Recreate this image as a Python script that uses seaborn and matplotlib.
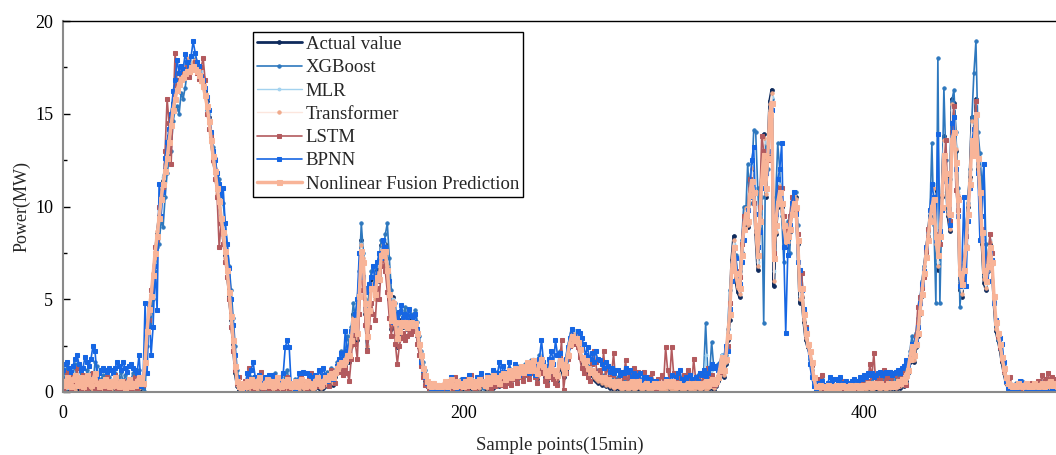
import numpy as np
import matplotlib
matplotlib.use("Agg")
import matplotlib.pyplot as plt
from matplotlib.ticker import MultipleLocator
import seaborn as sns

# ---------------- data ----------------
actual = [
    # x 0-39
    0.3,0.1,0.0,0.2,0.4,0.2,0.0,0.1,0.3,0.2, 0.0,0.2,0.5,0.2,0.1,0.0,0.2,0.3,0.1,0.0,
    0.2,0.1,0.0,0.1,0.0,0.2,0.1,0.0,0.0,0.2, 0.1,0.0,0.2,0.1,0.0,0.1,0.1,0.0,0.1,0.2,
    # x 40-89
    0.3,1.5,3.2,4.4,5.0,6.2,7.4,8.5,9.5,10.6, 11.4,12.0,12.8,13.8,14.8,15.6,16.3,16.8,17.1,17.4,
    17.3,17.6,17.8,17.7,17.9,18.0,17.8,17.6,17.4,17.1, 16.8,16.2,15.7,14.8,13.6,12.6,11.8,10.9,10.2,9.2,
    8.5,7.4,6.5,5.2,3.9,2.6,1.0,0.3,0.1,0.0,
    # x 90-139
    0.1,0.0,0.2,0.1,0.0,0.3,0.1,0.0,0.2,0.1, 0.0,0.1,0.3,0.1,0.0,0.2,0.0,0.1,0.2,0.0,
    0.1,0.0,0.2,0.1,0.0,0.1,0.3,0.1,0.0,0.2, 0.1,0.0,0.2,0.3,0.1,0.0,0.2,0.4,0.2,0.1,
    0.2,0.4,0.3,0.5,0.6,0.4,0.8,1.0,1.2,1.3,
    # x 140-189
    1.2,1.4,1.8,1.6,2.5,4.2,3.0,2.8,5.5,8.2, 7.0,4.2,2.3,4.5,6.0,5.6,5.2,6.6,6.0,7.9,
    7.8,8.0,6.6,5.0,3.4,5.1,3.5,2.4,3.2,3.9, 3.5,3.8,3.4,3.6,3.9,3.5,3.7,3.0,2.4,1.8,
    1.0,0.6,0.3,0.1,0.0,0.2,0.1,0.0,0.1,0.0,
    # x 190-329
    0.1,0.0,0.2,0.1,0.0,0.1,0.2,0.0,0.1,0.3, 0.2,0.1,0.0,0.2,0.3,0.1,0.0,0.2,0.1,0.3,
    0.4,0.2,0.1,0.3,0.5,0.2,0.4,0.6,0.3,0.5, 0.7,0.4,0.6,0.9,0.5,0.8,1.0,0.7,0.9,1.2,
    0.8,1.1,1.4,0.9,1.2,1.6,1.0,0.7,1.3,1.8, 1.2,0.8,0.6,1.0,1.5,0.9,0.7,0.6,1.7,1.2,
    0.8,1.2,2.0,2.8,3.3,2.9,3.2,2.8,2.2,1.6, 1.3,1.5,1.1,0.9,1.0,0.7,0.6,0.5,0.6,0.4,
    0.5,0.3,0.4,0.2,0.3,0.1,0.2,0.3,0.1,0.0, 0.2,0.1,0.0,0.1,0.2,0.0,0.1,0.3,0.1,0.0,
    0.1,0.2,0.0,0.1,0.0,0.2,0.1,0.0,0.1,0.0, 0.1,0.0,0.2,0.1,0.0,0.1,0.0,0.2,0.1,0.0,
    0.0,0.1,0.2,0.0,0.1,0.0,0.1,0.2,0.0,0.1, 0.2,0.0,0.1,0.3,0.2,0.1,0.3,0.6,1.0,1.8,
    # x 330-379
    0.8,1.5,2.8,3.9,7.1,8.4,6.0,5.4,5.1,7.5, 9.0,10.0,8.9,11.1,12.0,10.7,8.5,6.6,9.3,12.0,
    13.9,10.5,12.8,15.7,16.3,5.7,8.5,10.0,11.1,10.0, 8.7,7.8,8.0,8.6,9.8,10.7,10.5,8.0,4.8,5.1,
    3.8,2.8,2.4,2.1,1.4,0.6,0.1,0.0,0.2,0.1,
    # x 380-424
    0.0,0.1,0.2,0.0,0.1,0.0,0.2,0.1,0.0,0.1, 0.2,0.0,0.1,0.0,0.1,0.2,0.0,0.1,0.0,0.2,
    0.1,0.0,0.2,0.1,0.0,0.1,0.3,0.1,0.0,0.2, 0.1,0.0,0.2,0.1,0.3,0.2,0.1,0.4,0.2,0.5,
    0.3,0.6,1.0,1.6,2.4,
    # x 425-474
    1.6,2.4,3.0,4.2,5.2,6.6,7.5,8.4,9.5,10.2, 10.9,7.8,6.6,8.5,10.5,13.8,11.6,9.5,8.7,15.8,
    15.6,13.0,10.5,5.5,5.1,6.5,7.8,10.0,11.6,14.8, 12.7,15.8,12.0,10.5,8.0,5.9,5.5,6.5,8.0,6.9,
    4.8,3.3,2.8,2.3,1.6,1.0,0.5,0.2,0.1,0.0,
    # x 475-496
    0.1,0.0,0.2,0.1,0.0,0.1,0.2,0.0,0.1,0.0, 0.2,0.1,0.0,0.1,0.2,0.0,0.1,0.0,0.2,0.1, 0.0,0.1,
]

xgboost = [
    1.0,0.6,1.4,0.8,0.3,0.9,1.5,0.7,0.4,1.1, 0.6,0.3,1.2,0.8,1.0,0.5,1.6,1.4,0.4,0.7,
    0.9,0.5,1.2,0.8,0.3,0.6,1.0,0.4,0.8,1.1, 0.5,0.9,0.6,0.3,0.7,1.0,0.8,0.5,1.2,0.6,
    0.2,0.0,2.5,4.8,3.5,5.0,6.5,7.8,8.0,9.2, 8.9,10.5,11.8,12.5,13.0,14.6,15.2,15.4,15.0,16.1,
    15.8,16.4,17.2,17.6,17.3,17.8,17.5,17.7,17.2,16.9, 16.5,16.0,15.2,14.5,14.0,13.2,12.6,11.8,11.5,11.0,
    10.2,9.1,8.0,6.8,5.5,4.0,2.5,1.2,0.5,0.3,
    0.0,0.3,0.6,0.2,0.8,0.4,0.2,0.5,0.9,0.3, 0.6,0.2,0.4,0.8,0.3,0.5,1.0,0.4,0.2,0.6,
    0.3,0.8,1.2,0.5,0.2,0.4,0.7,0.3,0.5,0.9, 0.4,0.6,0.3,1.0,0.5,0.2,0.7,0.4,0.8,0.5,
    0.9,0.6,1.1,0.7,1.3,0.9,1.2,1.6,1.4,2.2,
    1.8,2.2,3.0,2.6,3.5,4.8,4.0,5.0,6.5,9.1, 7.5,5.0,4.0,5.8,6.5,6.8,6.0,7.0,7.4,8.2,
    7.6,8.5,9.1,7.2,5.5,4.0,4.8,3.5,4.2,4.4, 4.0,4.6,3.8,4.4,4.2,3.6,4.4,3.8,3.0,2.2,
    1.6,1.2,0.6,0.4,0.2,0.5,0.3,0.2,0.4,0.3,
    0.1,0.4,0.2,0.6,0.3,0.1,0.5,0.3,0.2,0.7, 0.4,0.2,0.6,0.3,0.8,0.2,0.5,0.3,0.7,0.4,
    0.2,0.6,0.4,0.9,0.3,0.7,0.5,1.1,0.6,0.4, 0.8,1.0,0.6,1.3,0.7,1.1,0.9,1.4,0.8,1.2,
    1.0,1.5,1.1,1.3,1.7,1.2,0.9,1.4,2.0,1.6, 1.1,0.9,1.3,1.6,1.2,1.0,0.8,1.1,2.2,1.5,
    1.0,1.6,2.3,2.6,3.1,2.7,3.3,2.5,2.0,1.9, 1.5,1.7,1.2,1.4,1.1,0.9,1.2,0.8,1.0,0.7,
    0.9,0.6,0.8,0.5,0.7,0.4,0.6,0.8,0.5,0.3, 0.6,0.4,0.7,0.3,0.5,0.8,0.4,0.6,0.3,0.5,
    0.4,0.7,0.3,0.5,0.2,0.6,0.4,0.3,0.5,0.2, 0.4,0.2,0.5,0.3,0.6,0.2,0.4,0.7,0.3,0.5,
    0.3,0.6,0.8,0.4,0.7,0.3,0.5,0.9,0.6,0.4, 1.0,3.7,1.2,1.0,2.7,1.4,1.3,1.5,1.6,2.0,
    1.5,2.0,3.4,5.5,7.0,6.8,7.4,6.2,6.5,8.2, 10.0,9.5,12.3,10.2,11.5,14.1,14.0,11.0,8.8,10.5,
    3.7,13.2,12.0,14.5,15.8,8.0,10.5,13.4,12.0,9.5, 7.0,8.8,9.2,7.5,10.2,10.8,10.8,9.0,6.0,6.4,
    4.5,3.5,2.6,1.8,1.2,0.5,0.3,0.6,0.4,0.8,
    0.2,0.1,0.3,0.5,0.2,0.4,0.1,0.3,0.6,0.2, 0.4,0.3,0.1,0.5,0.2,0.4,0.6,0.3,0.2,0.5,
    0.7,0.4,0.6,0.3,0.8,0.5,0.4,0.7,0.3,0.6, 0.8,0.5,0.9,0.6,0.7,1.0,0.6,0.9,0.8,1.1,
    1.2,1.5,1.3,2.2,3.0,
    2.5,3.2,4.0,5.0,6.0,6.8,7.2,8.6,9.5,13.4, 9.0,4.8,18.0,4.8,10.0,16.4,12.5,10.0,11.5,15.7,
    16.3,14.0,11.0,4.6,6.0,6.5,8.8,10.2,12.0,14.8, 17.2,18.9,14.0,12.9,11.0,12.3,8.0,6.5,7.5,7.1,
    5.0,3.6,2.8,2.6,2.6,1.4,0.5,0.3,0.4,0.2,
    0.3,0.5,0.2,0.4,0.6,0.3,0.5,0.2,0.4,0.3, 0.5,0.2,0.4,0.6,0.3,0.5,0.4,0.2,0.5,0.3, 0.6,0.4,
]

mlr = [
    0.4,0.3,0.2,0.4,0.6,0.3,0.2,0.3,0.5,0.4, 0.2,0.4,0.6,0.4,0.3,0.2,0.4,0.5,0.3,0.2,
    0.4,0.3,0.2,0.3,0.2,0.4,0.3,0.2,0.2,0.4, 0.3,0.2,0.4,0.3,0.2,0.3,0.3,0.2,0.3,0.4,
    0.5,1.8,3.0,4.6,5.3,6.0,7.6,8.3,9.8,10.4, 11.6,12.2,12.6,14.0,14.6,15.8,16.1,17.0,16.9,17.5,
    17.1,17.8,17.6,17.9,17.7,18.1,17.6,17.8,17.2,17.3, 16.6,16.4,15.5,15.0,13.4,12.8,11.6,11.1,10.0,9.4,
    8.3,7.6,6.3,5.4,3.7,2.8,1.2,0.5,0.2,0.1,
    0.3,0.2,0.4,0.3,0.2,0.5,0.3,0.2,0.4,0.3, 0.2,0.3,0.5,0.3,0.2,0.4,0.2,0.3,0.4,0.2,
    0.3,0.2,0.8,0.3,0.2,0.3,0.5,0.3,0.2,0.4, 0.3,0.2,0.4,0.5,0.3,0.2,0.4,0.6,0.4,0.3,
    0.4,0.6,0.5,0.7,0.8,0.6,1.0,1.2,1.4,1.5,
    1.4,1.6,2.0,1.8,2.7,4.0,3.2,3.0,5.8,8.0, 7.2,4.5,2.6,4.8,5.8,5.9,5.4,6.4,6.3,7.7,
    7.9,8.2,6.8,5.3,3.7,5.0,3.8,2.7,3.4,3.8, 3.7,3.9,3.6,3.8,3.8,3.7,3.8,3.2,2.6,2.0,
    1.2,0.8,0.5,0.3,0.2,0.3,0.2,0.2,0.2,0.1,
    0.3,0.2,0.4,0.3,0.2,0.3,0.4,0.2,0.3,0.5, 0.4,0.3,0.2,0.4,0.5,0.3,0.2,0.4,0.3,0.5,
    0.6,0.4,0.3,0.5,0.7,0.4,0.6,0.8,0.5,0.7, 0.9,0.6,0.8,1.1,0.7,1.0,1.2,0.9,1.1,1.4,
    1.0,1.3,1.6,1.1,1.4,1.8,1.2,0.9,1.5,2.0, 1.4,1.0,0.8,1.2,1.7,1.1,0.9,0.8,1.9,1.4,
    1.0,1.4,2.2,3.0,3.4,3.1,3.3,3.0,2.4,1.8, 1.5,1.7,1.3,1.1,1.2,0.9,0.8,0.7,0.8,0.6,
    0.7,0.5,0.6,0.4,0.5,0.3,0.4,0.5,0.3,0.2, 0.4,0.3,0.2,0.3,0.4,0.2,0.3,0.5,0.3,0.2,
    0.3,0.4,0.2,0.3,0.2,0.4,0.3,0.2,0.3,0.2, 0.3,0.2,0.4,0.3,0.2,0.3,0.2,0.4,0.3,0.2,
    0.2,0.3,0.4,0.2,0.3,0.2,0.3,0.4,0.2,0.3, 0.4,2.0,0.3,0.5,1.2,0.3,0.5,0.8,1.2,2.0,
    1.0,1.7,3.0,4.2,6.8,8.0,6.3,5.7,5.5,7.6, 9.2,9.8,9.2,11.0,12.2,11.0,8.8,7.0,9.5,11.8,
    13.5,10.8,13.0,15.2,15.9,6.5,8.8,10.2,11.2,10.2, 8.9,8.0,8.3,8.8,9.9,10.6,10.4,8.2,5.2,5.4,
    4.0,3.0,2.6,2.2,1.5,0.7,0.2,0.1,0.3,0.2,
    0.2,0.3,0.4,0.2,0.3,0.2,0.4,0.3,0.2,0.3, 0.4,0.2,0.3,0.2,0.3,0.4,0.2,0.3,0.2,0.4,
    0.3,0.2,0.4,0.3,0.2,0.3,0.5,0.3,0.2,0.4, 0.3,0.2,0.4,0.3,0.5,0.4,0.3,0.6,0.4,0.7,
    0.5,0.8,1.2,1.8,2.6,
    1.8,2.6,3.2,4.4,5.4,6.5,7.3,8.5,9.3,10.4, 11.2,8.4,7.0,8.8,10.8,13.5,11.8,9.8,9.0,15.2,
    15.3,13.2,10.8,6.0,5.6,6.8,8.0,10.2,11.4,14.5, 13.0,15.6,12.4,10.8,8.4,6.3,5.8,6.8,8.2,7.0,
    5.0,3.6,3.0,2.5,1.8,1.1,0.6,0.3,0.2,0.1,
    0.2,0.1,0.3,0.2,0.1,0.2,0.3,0.1,0.2,0.1, 0.3,0.2,0.1,0.2,0.3,0.1,0.2,0.1,0.3,0.2, 0.1,0.2,
]

transformer = [
    0.5,0.2,0.3,0.4,0.5,0.3,0.1,0.3,0.4,0.3, 0.1,0.3,0.6,0.3,0.2,0.1,0.3,0.4,0.2,0.1,
    0.3,0.2,0.1,0.2,0.1,0.3,0.2,0.1,0.1,0.3, 0.2,0.1,0.3,0.2,0.1,0.2,0.2,0.1,0.2,0.3,
    0.4,1.6,3.4,4.2,5.2,6.4,7.2,8.7,9.3,10.8, 11.2,12.3,13.0,13.6,15.0,15.4,16.5,16.6,17.3,17.2,
    17.5,17.4,18.0,17.5,18.1,17.8,17.9,17.4,17.6,16.9, 17.0,16.0,15.9,14.6,13.8,12.4,12.0,10.7,10.4,9.0,
    8.7,7.2,6.7,5.0,4.1,2.4,1.2,0.4,0.2,0.1,
    0.2,0.1,0.3,0.2,0.1,0.4,0.2,0.1,0.3,0.2, 0.1,0.2,0.4,0.2,0.1,0.3,0.1,0.2,0.3,0.1,
    0.2,0.1,0.3,0.2,0.1,0.2,0.4,0.2,0.1,0.3, 0.2,0.1,0.3,0.4,0.2,0.1,0.3,0.5,0.3,0.2,
    0.3,0.5,0.4,0.6,0.7,0.5,0.9,1.1,1.3,1.4,
    1.3,1.5,1.7,1.8,2.4,4.0,3.3,2.9,5.3,7.9, 7.2,4.4,2.5,4.3,5.8,5.8,5.0,6.4,6.2,7.6,
    7.9,7.8,6.8,5.2,3.6,4.9,3.7,2.6,3.3,3.7, 3.6,3.7,3.5,3.7,3.8,3.6,3.6,3.1,2.5,1.9,
    1.1,0.7,0.4,0.2,0.1,0.3,0.2,0.1,0.2,0.1,
    0.2,0.1,0.3,0.2,0.1,0.2,0.3,0.1,0.2,0.4, 0.3,0.2,0.1,0.3,0.4,0.2,0.1,0.3,0.2,0.4,
    0.5,0.3,0.2,0.4,0.6,0.3,0.5,0.7,0.4,0.6, 0.8,0.5,0.7,1.0,0.6,0.9,1.1,0.8,1.0,1.3,
    0.9,1.2,1.5,1.0,1.3,1.7,1.1,0.8,1.4,1.9, 1.3,0.9,0.7,1.1,1.6,1.0,0.8,0.7,1.8,1.3,
    0.9,1.3,2.1,2.9,3.2,3.0,3.1,2.9,2.3,1.7, 1.4,1.6,1.2,1.0,1.1,0.8,0.7,0.6,0.7,0.5,
    0.6,0.4,0.5,0.3,0.4,0.2,0.3,0.4,0.2,0.1, 0.3,0.2,0.1,0.2,0.3,0.1,0.2,0.4,0.2,0.1,
    0.2,0.3,0.1,0.2,0.1,0.3,0.2,0.1,0.2,0.1, 0.2,0.1,0.3,0.2,0.1,0.2,0.1,0.3,0.2,0.1,
    0.1,0.2,0.3,0.1,0.2,0.1,0.2,0.3,0.1,0.2, 0.3,0.1,0.2,0.4,0.3,0.2,0.4,0.7,1.1,1.9,
    0.9,1.6,2.9,4.1,6.9,8.2,6.2,5.6,5.3,7.4, 9.1,9.9,9.0,11.0,12.1,10.8,8.6,6.8,9.4,11.9,
    13.7,10.7,12.9,15.5,16.1,6.0,8.6,10.1,11.1,10.1, 8.8,7.9,8.1,8.7,9.8,10.6,10.4,8.1,5.0,5.2,
    3.9,2.9,2.5,2.1,1.4,0.6,0.2,0.1,0.2,0.1,
    0.1,0.2,0.3,0.1,0.2,0.1,0.3,0.2,0.1,0.2, 0.3,0.1,0.2,0.1,0.2,0.3,0.1,0.2,0.1,0.3,
    0.2,0.1,0.3,0.2,0.1,0.2,0.4,0.2,0.1,0.3, 0.2,0.1,0.3,0.2,0.4,0.3,0.2,0.5,0.3,0.6,
    0.4,0.7,1.1,1.7,2.5,
    1.7,2.5,3.1,4.3,5.3,6.5,7.4,8.4,9.4,10.3, 11.0,8.0,6.8,8.6,10.6,13.6,11.7,9.6,8.8,15.5,
    15.4,13.1,10.6,5.8,5.3,6.6,7.9,10.1,11.5,14.6, 12.8,15.7,12.2,10.6,8.2,6.1,5.6,6.6,8.1,7.0,
    4.9,3.4,2.9,2.4,1.7,1.0,0.5,0.2,0.1,0.1,
    0.1,0.1,0.2,0.2,0.1,0.1,0.2,0.1,0.1,0.1, 0.2,0.1,0.1,0.1,0.2,0.1,0.1,0.1,0.2,0.1, 0.1,0.1,
]

lstm = [
    0.2,0.6,1.1,0.4,0.1,0.8,0.3,1.3,0.5,0.2, 0.9,0.3,0.1,0.7,0.4,1.0,0.2,0.6,0.1,0.3,
    0.5,0.2,0.8,0.1,0.4,0.3,0.9,0.2,0.5,0.1, 0.6,0.3,0.2,0.7,0.1,0.4,0.8,0.2,0.5,0.3,
    0.4,2.0,3.5,3.9,5.5,6.0,7.8,8.2,10.0,10.5, 11.0,13.0,15.8,14.5,12.3,15.2,18.3,16.5,16.8,17.2,
    17.0,17.3,17.5,17.0,17.6,17.4,17.8,17.2,16.9,17.5, 18.0,16.8,15.0,14.2,13.8,12.5,11.5,10.5,7.8,9.1,
    8.0,7.0,6.2,5.0,3.5,2.2,1.2,0.5,0.8,0.2,
    0.2,0.6,0.3,1.3,0.4,0.2,0.8,0.3,0.5,1.1, 0.2,0.4,0.7,0.1,0.5,0.9,0.3,0.2,0.6,0.4,
    0.1,0.3,0.8,0.2,0.5,0.3,0.1,0.6,0.4,0.9, 0.3,0.5,0.2,0.7,1.0,0.4,0.6,0.3,0.8,0.5,
    0.4,0.9,0.6,0.3,1.2,0.8,0.5,1.4,1.1,1.8,
    0.9,1.3,1.0,0.6,1.8,3.5,2.6,1.8,4.2,6.5, 5.5,3.6,2.2,3.5,4.8,4.2,3.9,5.6,5.0,6.8,
    7.2,6.5,5.4,4.0,3.0,4.2,2.6,1.5,2.5,2.9, 3.2,2.8,3.0,3.4,3.1,3.3,3.6,2.6,2.0,1.4,
    0.8,0.4,0.6,0.2,0.3,0.5,0.2,0.4,0.1,0.3,
    0.2,0.4,0.1,0.6,0.3,0.2,0.8,0.4,0.1,0.5, 0.3,0.7,0.2,0.4,0.9,0.3,0.2,0.6,0.4,0.8,
    0.5,0.3,0.7,0.4,0.2,0.6,0.3,0.8,0.5,0.4, 0.6,0.3,0.9,0.5,0.4,1.0,0.7,0.5,0.8,1.1,
    0.6,0.9,1.3,0.7,1.0,1.4,0.8,0.5,1.1,1.5, 1.0,0.6,0.4,0.8,1.2,0.7,0.5,0.4,1.4,2.8,
    0.1,1.0,1.8,2.5,2.9,2.6,2.8,2.4,1.9,1.3, 1.0,1.2,0.8,0.6,1.5,2.2,1.6,0.9,1.2,0.7,
    2.2,0.8,1.4,0.5,0.9,2.1,0.6,0.4,1.1,0.3, 0.8,1.7,0.5,0.9,0.4,1.3,0.3,1.1,0.6,0.4,
    1.1,0.5,0.8,0.3,1.0,0.6,0.2,0.7,0.4,0.9, 0.5,2.4,1.2,0.6,2.4,1.0,0.4,0.8,0.3,0.6,
    0.9,0.4,1.2,0.6,0.3,1.8,0.7,0.5,1.0,0.4, 0.8,0.5,1.3,0.6,0.9,0.4,0.5,0.8,1.1,1.6,
    1.2,2.2,2.5,4.8,6.5,7.8,6.5,5.8,6.2,8.0, 9.5,9.6,9.8,11.5,11.0,10.2,9.0,7.8,10.0,13.8,
    13.0,11.8,12.5,14.8,15.6,7.5,9.0,10.8,11.0,11.0, 9.5,8.5,8.8,9.5,10.5,10.2,9.8,8.5,5.6,6.4,
    4.4,3.5,2.6,2.2,1.5,0.8,0.4,0.7,0.5,0.9,
    0.1,0.3,0.2,0.5,0.1,0.4,0.2,0.3,0.1,0.6, 0.2,0.4,0.1,0.3,0.5,0.2,0.4,0.3,0.7,0.5,
    0.3,0.9,0.6,1.5,0.8,2.1,0.4,0.7,1.0,0.5, 1.2,0.6,0.8,1.1,0.5,0.9,1.1,0.4,0.7,1.1,
    0.5,0.4,1.2,1.9,2.2,
    2.0,3.0,4.6,5.1,5.6,6.2,7.6,8.8,9.2,9.8, 10.2,8.5,7.4,8.0,10.0,12.2,13.6,10.2,9.2,14.0,
    15.4,10.9,9.8,6.6,6.0,7.2,8.4,9.6,11.2,13.5, 12.8,15.7,12.6,10.8,8.8,7.0,6.2,7.2,8.5,7.5,
    5.2,3.8,3.0,2.4,1.8,1.2,0.6,0.5,0.8,0.4,
    0.2,0.4,0.3,0.2,0.5,0.3,0.4,0.2,0.3,0.5, 0.4,0.3,0.6,0.4,0.9,0.5,0.7,1.0,0.6,0.8, 0.5,0.7,
]

bpnn = [
    1.2,1.5,1.6,1.3,1.1,1.4,1.8,2.0,1.5,1.2, 1.3,1.9,1.6,1.4,1.8,2.5,2.2,0.8,1.0,1.2,
    1.3,1.2,1.1,1.3,1.2,1.0,1.3,1.6,1.4,1.2, 1.6,1.3,1.1,1.4,1.5,1.3,1.2,1.0,2.0,0.3,
    0.5,4.8,1.0,4.6,2.0,3.5,6.8,4.4,11.2,9.5, 10.8,12.6,13.5,14.2,15.0,16.2,16.8,17.9,17.2,17.6,
    17.4,18.2,17.8,17.5,18.1,18.9,18.3,17.8,17.6,17.0, 16.8,16.4,15.9,15.2,14.0,13.0,12.5,11.8,11.2,10.6,
    11.0,9.1,8.0,6.7,5.0,3.6,2.0,0.8,0.3,0.0,
    0.2,0.4,1.0,0.6,1.2,1.6,0.8,0.5,0.9,0.7, 0.4,0.8,0.6,0.9,0.5,0.9,0.7,0.4,0.8,0.6,
    1.0,2.4,2.8,2.4,0.3,0.5,0.1,0.6,1.0,1.0, 1.1,1.0,1.0,0.9,0.8,0.5,0.9,0.7,1.2,0.8,
    1.3,0.9,0.6,0.8,1.0,0.7,1.0,1.4,1.8,2.1,
    1.6,3.3,2.2,2.4,3.3,3.6,4.2,5.0,7.5,6.8, 6.2,5.6,5.4,5.8,6.2,6.8,5.8,7.0,7.5,7.2,
    8.2,7.8,6.6,6.0,4.5,3.8,4.2,4.0,4.3,4.7, 4.0,4.2,3.9,4.5,4.1,3.8,4.2,3.4,2.6,1.6,
    1.2,0.8,0.5,0.3,0.2,0.4,0.2,0.3,0.2,0.1,
    0.3,0.5,0.2,0.4,0.8,0.3,0.5,0.2,0.6,0.4, 0.7,0.3,0.5,0.9,0.4,0.6,0.3,0.8,0.5,1.0,
    0.6,0.4,0.9,0.5,0.8,1.2,0.6,1.0,1.6,0.9, 1.4,1.1,1.0,1.6,0.8,1.2,1.5,1.1,0.9,1.3,
    1.3,1.2,1.4,1.0,1.6,1.2,0.9,1.5,1.8,2.8, 1.6,1.4,1.2,1.8,2.2,1.5,2.8,2.0,2.1,1.6,
    1.2,1.8,2.4,2.9,3.4,3.0,2.8,3.3,3.2,2.9, 2.6,2.0,2.4,1.8,2.1,1.6,2.2,1.8,1.7,1.5,
    1.3,1.6,1.4,1.1,1.3,1.0,1.2,1.2,0.9,1.1, 1.0,1.3,1.1,1.2,0.8,1.0,0.7,0.9,1.0,0.6,
    0.8,0.8,0.5,0.7,0.6,0.4,0.6,0.5,0.3,0.3, 0.5,0.7,0.4,0.6,0.9,0.5,0.8,1.0,1.2,0.7,
    0.6,0.8,0.5,0.9,0.7,0.5,0.8,0.6,1.0,0.9, 1.2,0.8,1.0,1.3,1.5,1.3,1.4,1.2,1.5,1.7,
    1.8,2.5,2.2,4.5,6.0,7.8,7.2,6.4,5.8,7.0, 8.2,9.4,9.8,10.5,12.5,13.2,9.6,7.8,8.6,11.0,
    12.4,11.8,13.0,14.6,15.2,7.2,9.6,11.5,12.0,13.4, 7.8,3.2,7.4,9.0,10.2,10.8,9.6,7.0,6.6,5.5,
    4.5,3.4,2.6,1.5,0.8,0.3,0.1,0.5,0.3,0.6,
    0.4,0.3,0.5,0.8,0.6,0.7,0.7,0.6,0.8,0.5, 0.5,0.6,0.4,0.5,0.6,0.7,0.5,0.6,0.8,0.7,
    0.9,0.8,1.0,0.9,1.0,0.8,0.9,1.0,1.1,0.9, 1.0,1.1,1.0,1.1,0.9,1.0,1.1,1.2,1.0,1.3,
    1.4,1.7,1.5,1.9,2.6,
    2.0,2.8,3.5,4.8,5.8,6.5,7.8,8.2,9.8,11.2, 10.5,8.2,13.9,8.7,9.8,12.8,11.4,10.2,9.0,14.5,
    14.8,12.0,9.5,5.7,6.8,10.5,5.7,9.2,11.0,13.5, 14.2,15.0,11.8,8.2,9.5,12.3,6.4,6.0,7.5,7.1,
    4.8,3.9,3.2,2.9,2.6,1.6,0.6,0.2,0.1,0.2,
    0.0,0.1,0.0,0.6,0.3,0.5,0.2,0.1,0.0,0.0, 0.1,0.0,0.0,0.1,0.0,0.0,0.1,0.0,0.0,0.1, 0.0,0.0,
]

fusion = [
    0.6,0.4,0.8,0.5,0.3,0.7,0.9,0.4,0.6,0.8, 0.3,0.5,0.9,0.6,0.4,0.7,1.0,0.5,0.3,0.6,
    0.4,0.7,0.5,0.3,0.6,0.4,0.8,0.5,0.3,0.6, 0.4,0.2,0.5,0.7,0.3,0.5,0.4,0.6,0.8,0.5,
    0.5,1.6,3.3,4.5,5.2,6.3,7.5,8.4,9.4,10.4, 11.2,11.9,12.6,13.5,14.4,15.2,15.8,16.3,16.6,16.9,
    17.0,17.2,17.3,17.3,17.5,17.6,17.4,17.3,17.1,16.8, 16.5,16.0,15.4,14.6,13.6,12.7,11.9,11.0,10.3,9.4,
    8.6,7.6,6.6,5.4,4.1,2.8,1.4,0.6,0.3,0.2,
    0.5,0.3,0.6,0.4,0.7,0.5,0.3,0.6,0.8,0.4, 0.3,0.5,0.7,0.4,0.6,0.3,0.5,0.8,0.4,0.3,
    0.6,0.4,0.7,0.5,0.3,0.4,0.6,0.3,0.5,0.7, 0.4,0.3,0.6,0.5,0.4,0.3,0.6,0.8,0.5,0.4,
    0.6,0.8,0.7,0.9,1.0,0.8,1.1,1.3,1.5,1.6,
    1.5,1.7,2.0,2.0,2.8,3.9,3.4,3.2,5.2,7.6, 7.0,4.8,3.0,4.4,5.6,5.6,5.3,6.2,6.1,7.4,
    7.6,7.6,6.6,5.3,3.9,4.8,3.8,2.9,3.3,3.8, 3.6,3.8,3.5,3.7,3.8,3.6,3.7,3.2,2.6,2.0,
    1.3,0.9,0.6,0.4,0.3,0.5,0.4,0.3,0.4,0.3,
    0.4,0.6,0.3,0.5,0.7,0.4,0.3,0.6,0.4,0.5, 0.3,0.6,0.4,0.7,0.5,0.3,0.6,0.4,0.7,0.5,
    0.6,0.4,0.8,0.5,0.7,0.9,0.6,0.8,0.5,0.9, 1.0,0.7,0.9,1.2,0.8,1.1,1.3,0.9,1.2,1.4,
    1.1,1.3,1.6,1.2,1.4,1.7,1.2,1.0,1.5,1.8, 1.4,1.1,0.9,1.2,1.6,1.2,1.0,0.9,1.7,1.5,
    1.1,1.4,2.0,2.6,3.0,2.8,2.9,2.7,2.3,1.9, 1.6,1.7,1.3,1.1,1.2,1.0,0.9,0.8,0.8,0.7,
    0.8,0.6,0.7,0.5,0.6,0.4,0.5,0.6,0.4,0.3, 0.5,0.4,0.3,0.5,0.6,0.3,0.4,0.6,0.4,0.3,
    0.4,0.5,0.3,0.4,0.3,0.5,0.4,0.3,0.5,0.3, 0.4,0.6,0.5,0.4,0.6,0.4,0.3,0.5,0.4,0.3,
    0.3,0.4,0.5,0.3,0.4,0.5,0.4,0.5,0.3,0.4, 0.5,0.6,0.4,0.6,0.7,0.5,0.6,0.8,1.2,1.9,
    1.2,1.8,3.0,4.2,6.6,7.8,6.4,5.8,5.6,7.4, 8.8,9.6,9.2,10.6,11.4,10.8,9.0,7.4,9.2,11.4,
    12.8,11.0,12.6,15.0,15.6,7.2,9.0,10.2,10.8,10.2, 9.0,8.2,8.4,8.8,9.6,10.2,10.0,8.2,5.6,5.6,
    4.2,3.2,2.6,2.2,1.6,0.8,0.3,0.3,0.4,0.3,
    0.3,0.2,0.4,0.3,0.2,0.3,0.4,0.2,0.3,0.4, 0.3,0.2,0.3,0.4,0.2,0.3,0.4,0.3,0.2,0.4,
    0.3,0.4,0.5,0.3,0.4,0.5,0.3,0.4,0.5,0.3, 0.4,0.3,0.5,0.4,0.3,0.5,0.4,0.6,0.5,0.7,
    0.6,0.9,1.2,1.8,2.5,
    2.0,2.6,3.2,4.3,5.3,6.4,7.3,8.2,9.2,10.0, 10.4,8.4,7.4,8.4,10.0,12.8,11.8,10.2,9.6,13.6,
    14.0,12.4,10.4,6.4,5.8,6.6,7.8,9.6,11.2,13.6, 12.8,15.0,12.6,10.8,8.6,6.6,6.0,6.8,7.8,7.0,
    5.2,3.8,3.2,2.6,1.9,1.3,0.8,0.5,0.4,0.3,
    0.4,0.3,0.5,0.4,0.3,0.4,0.5,0.3,0.4,0.3, 0.5,0.4,0.3,0.4,0.5,0.3,0.4,0.5,0.6,0.4, 0.5,0.4,
]

labels = ["Actual value", "XGBoost", "MLR", "Transformer", "LSTM", "BPNN",
          "Nonlinear Fusion Prediction"]
x_ticks = [0, 200, 400]
y_ticks = [0, 5, 10, 15, 20]

# ---------------- style ----------------
sns.set_theme(style="white")
plt.rcParams["font.family"] = ["Liberation Serif", "DejaVu Serif"]

fig = plt.figure(figsize=(10.56, 4.55), dpi=100)
ax = fig.add_axes([63 / 1056, 1 - 392 / 455, 1 - 63 / 1056, (392 - 21) / 455])

styles = [
    dict(color="#0E2A5C", lw=2.0, marker="o", ms=2.6, mfc="#0E2A5C", mec="#0E2A5C"),
    dict(color="#2E78BE", lw=1.2, marker="o", ms=2.4, mfc="#2E78BE", mec="#2E78BE"),
    dict(color="#A3D2EF", lw=1.0, marker="o", ms=2.0, mfc="#A3D2EF", mec="#A3D2EF"),
    dict(color="#FCE6DE", lw=1.0, marker="o", ms=2.4, mfc="#F0A98A", mec="#F0A98A"),
    dict(color="#B35A5E", lw=1.2, marker="s", ms=2.4, mfc="#B35A5E", mec="#B35A5E"),
    dict(color="#1666E3", lw=1.2, marker="s", ms=2.4, mfc="#1666E3", mec="#1666E3"),
    dict(color="#F8B498", lw=2.5, marker="s", ms=3.6, mfc="#F8B498", mec="#F8B498"),
]
series = [actual, xgboost, mlr, transformer, lstm, bpnn, fusion]

for vals, lab, st in zip(series, labels, styles):
    xs = np.arange(len(vals))
    sns.lineplot(x=xs, y=vals, ax=ax, label=lab, estimator=None, sort=False, **st)

ax.set_xlim(0, 496)
ax.set_ylim(0, 20)
ax.set_xticks(x_ticks)
ax.set_yticks(y_ticks)
ax.xaxis.set_minor_locator(MultipleLocator(100))
ax.yaxis.set_minor_locator(MultipleLocator(2.5))
ax.tick_params(axis="both", which="both", direction="in", colors="black",
               labelsize=13, left=True, bottom=True)
ax.tick_params(axis="both", which="major", length=5, width=1)
ax.tick_params(axis="both", which="minor", length=3, width=1)
ax.tick_params(axis="x", pad=9)
ax.tick_params(axis="y", pad=7)

for side in ["left", "bottom"]:
    ax.spines[side].set_color("#8a8a8a")
    ax.spines[side].set_linewidth(1.5)
ax.spines["top"].set_color("black")
ax.spines["top"].set_linewidth(1.0)
ax.spines["right"].set_visible(False)

ax.set_xlabel("Sample points(15min)", fontsize=13.5, labelpad=11)
ax.set_ylabel("Power(MW)", fontsize=13, labelpad=3)

leg = ax.legend(loc="upper left", bbox_to_anchor=((253 - 63) / 993, (392 - 32) / 371),
                borderaxespad=0, frameon=True, fancybox=False, fontsize=13.5,
                handlelength=2.4, handletextpad=0.2, labelspacing=0.33,
                borderpad=0.2, numpoints=1)
leg.get_frame().set_edgecolor("black")
leg.get_frame().set_linewidth(1.0)
leg.get_frame().set_alpha(1)

fig.savefig("out.png", dpi=100)
